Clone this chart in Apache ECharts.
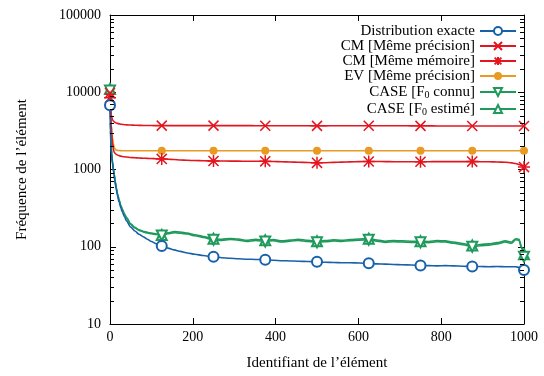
<!DOCTYPE html>
<html>
<head>
<meta charset="utf-8">
<script src="https://cdn.jsdelivr.net/npm/echarts@6/dist/echarts.min.js"></script>
<style>
  html, body { margin: 0; padding: 0; background: #fff; }
  #chart { width: 544px; height: 376px; }
</style>
</head>
<body>
<div id="chart"></div>
<script>
// Element identifiers where each curve is sampled (markers every 125)
const ids = [0,1,2,3,4,6,8,10,12,15,18,22,26,30,35,40,50,60,70,80,90,100,112,
  125,140,155,170,187,205,225,250,270,290,310,330,352,375,395,415,435,455,478,
  500,520,540,560,580,602,625,645,665,685,705,728,750,770,790,810,830,852,
  875,895,915,935,955,970,980,988,994,1000];

const markerIds = [0,125,250,375,500,625,750,875,1000];

const exacte = [6800,3200,2300,1800,1500,1200,1000,850,700,560,460,380,320,280,245,215,180,160,145,135,125,117,109,
  102,96,91,87,83,80,77,74,72,71,70,69,68.5,68,67,66,65.5,65,64.5,
  64,63,62.5,62,62,61.5,61,60,59.5,59,58.5,58,57,57,56.5,57,56.5,56,
  55.5,55.5,55,55.5,55,55,55,54,52,50];

const cmPrecision = [9800,7500,6000,5200,4800,4400,4250,4150,4080,4000,3950,3900,3860,3830,3800,3780,3760,3740,3730,3720,3710,3705,3700,
  3700,3700,3705,3700,3700,3695,3700,3700,3700,3695,3700,3700,3690,3690,3690,3685,3690,3690,3680,
  3670,3675,3680,3680,3685,3690,3690,3685,3680,3680,3680,3675,3670,3670,3665,3665,3665,3660,
  3660,3660,3660,3660,3655,3655,3650,3650,3650,3650];

const cmMemoire = [8500,6500,5000,3800,3000,2200,1850,1680,1620,1570,1540,1510,1490,1470,1460,1450,1430,1420,1410,1400,1395,1385,1380,
  1370,1360,1345,1330,1315,1305,1298,1290,1288,1285,1282,1280,1278,1275,1268,1260,1250,1240,1230,
  1220,1225,1235,1245,1255,1265,1270,1268,1265,1262,1260,1260,1260,1262,1265,1266,1266,1265,
  1265,1262,1258,1250,1240,1220,1195,1160,1120,1075];

const evPrecision = [7000,5500,4500,3700,3200,2600,2200,1950,1850,1790,1770,1760,1755,1750,1750,1750,1750,1750,1750,1750,1750,1750,1750,
  1750,1750,1750,1750,1750,1750,1750,1750,1750,1750,1750,1750,1750,1750,1750,1750,1750,1750,1750,
  1750,1750,1750,1750,1750,1750,1750,1750,1750,1750,1750,1750,1750,1750,1750,1750,1750,1750,
  1750,1750,1750,1750,1750,1750,1750,1750,1750,1750];

const caseConnu = [10500,4000,2600,2000,1600,1250,1020,870,720,580,480,400,340,300,262,235,195,175,163,156,151,147,144,
  140,147,152,150,146,139,132,123,121,124,122,117,121,117,120,115,118,121,117,
  114,116,119,117,120,122,123,118,114,116,115,114,114,113,116,115,111,106,
  100,103,105,109,115,111,123,121,96,74];

const caseEstime = [11000,4100,2650,2050,1620,1270,1030,880,730,590,490,405,345,305,266,238,198,178,166,159,154,150,146,
  142,151,157,155,150,143,136,127,125,128,126,121,125,121,124,119,122,125,121,
  118,120,123,121,124,126,127,122,118,120,119,118,118,117,120,119,115,110,
  104,107,109,113,119,115,127,125,100,80];

const seriesNames = [
  'Distribution exacte',
  'CM [Même précision]',
  'CM [Même mémoire]',
  'EV [Même précision]',
  'CASE [F0 connu]',
  'CASE [F0 estimé]'
];

const seriesValues = [exacte, cmPrecision, cmMemoire, evPrecision, caseConnu, caseEstime];

const yMinorTicks = [];
for (let d = 10; d < 100000; d *= 10) {
  for (let k = 2; k <= 9; k++) yMinorTicks.push(k * d);
}

const FONT = 'Liberation Serif';
const colors = ['#1761ab', '#e3151f', '#e3151f', '#e89a22', '#1f9a5c', '#1f9a5c'];

const crossPath = 'path://M0,0L10,10M0,10L10,0';
const starPath = 'path://M5,0L5,10M0,5L10,5M0.8,0.8L9.2,9.2M9.2,0.8L0.8,9.2';

const symbolStyles = [
  { symbol: 'emptyCircle', symbolSize: 10, borderWidth: 2 },
  { symbol: crossPath, symbolSize: 10, borderWidth: 1.5 },
  { symbol: starPath, symbolSize: 12, borderWidth: 1.5 },
  { symbol: 'circle', symbolSize: 8, borderWidth: 0 },
  { symbol: 'emptyTriangle', symbolSize: 10, borderWidth: 1.5, rotate: 180 },
  { symbol: 'emptyTriangle', symbolSize: 10, borderWidth: 1.5, rotate: 0 }
];

function buildData(values) {
  return ids.map((x, i) => markerIds.includes(x)
    ? [x, values[i]]
    : { value: [x, values[i]], symbol: 'none' });
}

const series = seriesNames.map((name, s) => {
  const st = symbolStyles[s];
  return {
    name: name,
    type: 'line',
    xAxisIndex: 0,
    yAxisIndex: 0,
    data: buildData(seriesValues[s]),
    smooth: 0.25,
    smoothMonotone: 'x',
    showAllSymbol: true,
    symbol: st.symbol,
    symbolSize: st.symbolSize,
    symbolRotate: st.rotate || 0,
    lineStyle: { color: colors[s], width: 1.6 },
    itemStyle: { color: colors[s], borderColor: colors[s], borderWidth: st.borderWidth },
    emphasis: { disabled: true },
    z: 10 - s
  };
});

const labelStyle = { fontFamily: FONT, fontSize: 14, color: '#000', formatter: v => String(v) };

const option = {
  animation: false,
  backgroundColor: '#fff',
  grid: { left: 110, right: 20, top: 15, bottom: 48, containLabel: false },
  legend: {
    orient: 'vertical',
    right: 27,
    top: 23.5,
    padding: 0,
    align: 'right',
    itemWidth: 36,
    itemHeight: 10,
    itemGap: 0,
    data: seriesNames,
    formatter: name => name.replace('F0', 'F{sub|0}'),
    textStyle: {
      fontFamily: FONT, fontSize: 15, color: '#000', lineHeight: 14.5,
      rich: {
        sub: { fontFamily: FONT, fontSize: 10, color: '#000', padding: [7, 0, 0, 0], lineHeight: 14.5 }
      }
    }
  },
  xAxis: [
    {
      type: 'value', position: 'bottom', min: 0, max: 1000, interval: 200,
      axisLine: { show: true, onZero: false, lineStyle: { color: '#000', width: 1 } },
      axisTick: { show: true, inside: true, length: 6, lineStyle: { color: '#000' } },
      axisLabel: Object.assign({ margin: 6 }, labelStyle),
      splitLine: { show: false },
      name: 'Identifiant de l’élément', nameLocation: 'middle', nameGap: 32,
      nameTextStyle: { fontFamily: FONT, fontSize: 15, color: '#000' }
    },
    {
      type: 'value', position: 'top', min: 0, max: 1000, interval: 200,
      axisLine: { show: true, onZero: false, lineStyle: { color: '#000', width: 1 } },
      axisTick: { show: true, inside: true, length: 6, lineStyle: { color: '#000' } },
      axisLabel: { show: false },
      splitLine: { show: false }
    }
  ],
  yAxis: [
    {
      type: 'log', logBase: 10, position: 'left', min: 10, max: 100000,
      axisLine: { show: true, onZero: false, lineStyle: { color: '#000', width: 1 } },
      axisTick: { show: true, inside: true, length: 6, lineStyle: { color: '#000' } },
      axisLabel: Object.assign({ margin: 9 }, labelStyle),
      splitLine: { show: false },
      name: 'Fréquence de l’élément', nameLocation: 'middle', nameGap: 80,
      nameTextStyle: { fontFamily: FONT, fontSize: 15, color: '#000' }
    },
    {
      type: 'log', logBase: 10, position: 'right', min: 10, max: 100000,
      axisLine: { show: true, onZero: false, lineStyle: { color: '#000', width: 1 } },
      axisTick: { show: true, inside: true, length: 6, lineStyle: { color: '#000' } },
      axisLabel: { show: false },
      splitLine: { show: false }
    }
  ],
  series: series
};

const chart = echarts.init(document.getElementById('chart'), null, { renderer: 'canvas' });
chart.setOption(option);

// Log-scale minor ticks (2..9 in each decade) on both vertical sides of the frame
const xl = chart.convertToPixel({ xAxisIndex: 0 }, 0);
const xr = chart.convertToPixel({ xAxisIndex: 0 }, 1000);
const minorTickShapes = [];
yMinorTicks.forEach(v => {
  const y = Math.round(chart.convertToPixel({ yAxisIndex: 0 }, v)) + 0.5;
  minorTickShapes.push({
    type: 'line', z: 100,
    shape: { x1: xl, y1: y, x2: xl + 4, y2: y },
    style: { stroke: '#000', lineWidth: 1 }
  });
  minorTickShapes.push({
    type: 'line', z: 100,
    shape: { x1: xr - 4, y1: y, x2: xr, y2: y },
    style: { stroke: '#000', lineWidth: 1 }
  });
});
chart.setOption({ graphic: { elements: minorTickShapes } });
</script>
</body>
</html>
